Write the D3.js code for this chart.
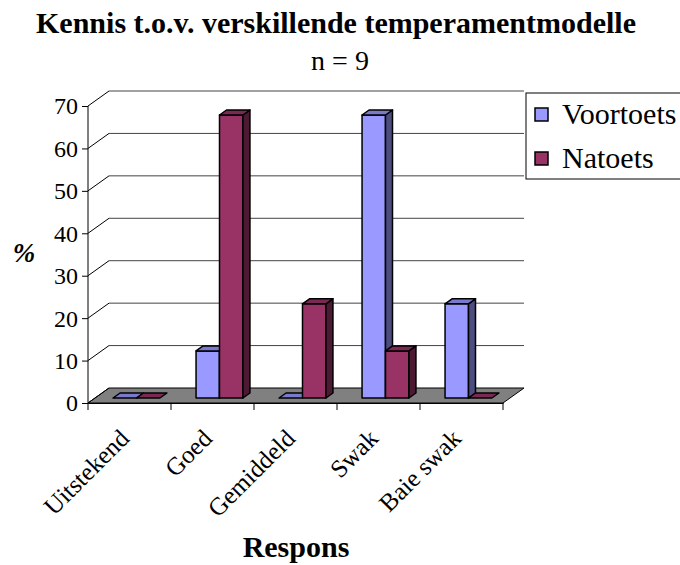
<!DOCTYPE html>
<html>
<head>
<meta charset="utf-8">
<script src="https://cdn.jsdelivr.net/npm/d3@7"></script>
<style>
    body { margin: 0; background: #fff; }
    text { font-family: "Liberation Serif", "Times New Roman", serif; fill: #000; }
</style>
</head>
<body>
<div id="chart"></div>
<script>
// chart data (n = 9, so steps of 11.1%)
var categories = ["Uitstekend", "Goed", "Gemiddeld", "Swak", "Baie swak"];
var seriesNames = ["Voortoets", "Natoets"];
var voortoets = [0, 11.1, 0, 66.7, 22.2];
var natoets = [0, 66.7, 22.2, 11.1, 0];
var yTicks = [0, 10, 20, 30, 40, 50, 60, 70];

var width = 680, height = 565;

// colours for the three visible faces of each bar
var faceColors = {
    "Voortoets": {front: "#9999ff", top: "#7a7acc", side: "#4d4d80"},
    "Natoets": {front: "#993366", top: "#7a2952", side: "#4d1a33"}
};

// depth of the floor, bars sit in its middle third
var depthX = 21, depthY = -15;
var barDx = 7, barDy = -5;

var x = d3.scaleBand().domain(categories).range([88, 503]);
var xSub = d3.scaleBand().domain(seriesNames).range([0, x.bandwidth()]).paddingOuter(0.77);
var y = d3.scaleLinear().domain([0, 70]).range([403, 106]);

var svg = d3.select("#chart").append("svg")
    .attr("width", width)
    .attr("height", height);

function poly(points) {
    return "M" + points.map(function(p) { return p[0] + "," + p[1]; }).join("L") + "Z";
}

// floor
var x0 = x.range()[0], x1 = x.range()[1];
svg.append("path")
    .attr("d", poly([[x0, y(0)], [x1, y(0)], [x1 + depthX, y(0) + depthY], [x0 + depthX, y(0) + depthY]]))
    .attr("fill", "#808080")
    .attr("stroke", "#000")
    .attr("stroke-width", 1);

// back wall gridlines and the left wall diagonals
yTicks.forEach(function(t) {
    if (t > 0) {
        svg.append("line")
            .attr("x1", x0 + depthX).attr("y1", y(t) + depthY)
            .attr("x2", x1 + depthX).attr("y2", y(t) + depthY)
            .attr("stroke", "#444")
            .attr("stroke-width", 1);
    }
    svg.append("line")
        .attr("x1", x0).attr("y1", y(t))
        .attr("x2", x0 + depthX).attr("y2", y(t) + depthY)
        .attr("stroke", "#000")
        .attr("stroke-width", 1);
});

// y axis
var yAxis = svg.append("g")
    .attr("transform", "translate(" + x0 + ",0)")
    .call(d3.axisLeft(y).tickValues(yTicks).tickSize(6).tickPadding(4));
yAxis.select(".domain").attr("stroke", "#000").attr("d", "M0," + y(70) + "V" + y(0));
yAxis.selectAll("text")
    .style("font-family", "Liberation Serif")
    .style("font-size", "24px")
    .attr("dy", "0.33em");

// x axis along the front edge of the floor
var xAxis = svg.append("g")
    .attr("transform", "translate(0," + y(0) + ")")
    .call(d3.axisBottom(x).tickSize(0).tickFormat(""));
xAxis.select(".domain").attr("stroke", "#000");
var bounds = categories.map(function(c) { return x(c); }).concat([x1]);
xAxis.selectAll(".bound")
    .data(bounds)
    .enter()
    .append("line")
    .attr("class", "bound")
    .attr("x1", function(d) { return d; })
    .attr("x2", function(d) { return d; })
    .attr("y1", 0)
    .attr("y2", 7)
    .attr("stroke", "#000");

// category labels, rotated
svg.selectAll(".cat-label")
    .data(categories)
    .enter()
    .append("text")
    .attr("class", "cat-label")
    .attr("text-anchor", "end")
    .attr("transform", function(d) {
        return "translate(" + (x(d) + x.bandwidth() / 2 + 1) + "," + (y(0) + 37) + ") rotate(-45)";
    })
    .style("font-family", "Liberation Serif")
    .style("font-size", "25px")
    .text(function(d) { return d; });

// build bar records, left to right so sides get covered properly
var bars = [];
categories.forEach(function(c, i) {
    bars.push({cat: c, series: "Voortoets", value: voortoets[i]});
    bars.push({cat: c, series: "Natoets", value: natoets[i]});
});

var barG = svg.append("g");
bars.forEach(function(d) {
    var left = x(d.cat) + xSub(d.series) + barDx;
    var right = left + xSub.bandwidth();
    var bottom = y(0) + barDy;
    var top = y(d.value) + barDy;
    var col = faceColors[d.series];

    if (d.value > 0) {
        barG.append("path")
            .attr("d", poly([[left, top], [right, top], [right, bottom], [left, bottom]]))
            .attr("fill", col.front);
        barG.append("path")
            .attr("d", poly([[right, top], [right + barDx, top + barDy], [right + barDx, bottom + barDy], [right, bottom]]))
            .attr("fill", col.side);
    }
    barG.append("path")
        .attr("d", poly([[left, top], [right, top], [right + barDx, top + barDy], [left + barDx, top + barDy]]))
        .attr("fill", col.top);

    barG.selectAll("path:nth-last-child(-n+3)")
        .attr("stroke", "#000")
        .attr("stroke-width", 1.5)
        .attr("stroke-linejoin", "round");
});

// titles
svg.append("text")
    .attr("x", 336)
    .attr("y", 33)
    .attr("text-anchor", "middle")
    .style("font-family", "Liberation Serif")
    .style("font-size", "30px")
    .style("font-weight", "bold")
    .text("Kennis t.o.v. verskillende temperamentmodelle");

svg.append("text")
    .attr("x", 340)
    .attr("y", 70)
    .attr("text-anchor", "middle")
    .style("font-family", "Liberation Serif")
    .style("font-size", "28px")
    .text("n = 9");

svg.append("text")
    .attr("x", 24)
    .attr("y", 262)
    .attr("text-anchor", "middle")
    .style("font-family", "Liberation Serif")
    .style("font-size", "27px")
    .style("font-weight", "bold")
    .style("font-style", "italic")
    .text("%");

svg.append("text")
    .attr("x", 296)
    .attr("y", 557)
    .attr("text-anchor", "middle")
    .style("font-family", "Liberation Serif")
    .style("font-size", "30px")
    .style("font-weight", "bold")
    .text("Respons");

// legend
var legend = svg.append("g");
legend.append("rect")
    .attr("x", 526)
    .attr("y", 93)
    .attr("width", 170)
    .attr("height", 86)
    .attr("fill", "#fff")
    .attr("stroke", "#000");

seriesNames.forEach(function(s, i) {
    legend.append("rect")
        .attr("x", 535)
        .attr("y", 108 + i * 44)
        .attr("width", 13)
        .attr("height", 13)
        .attr("fill", faceColors[s].front)
        .attr("stroke", "#000")
        .attr("stroke-width", 1.5);
    legend.append("text")
        .attr("x", 562)
        .attr("y", 124 + i * 44)
        .style("font-family", "Liberation Serif")
        .style("font-size", "30px")
        .text(s);
});
</script>
</body>
</html>
